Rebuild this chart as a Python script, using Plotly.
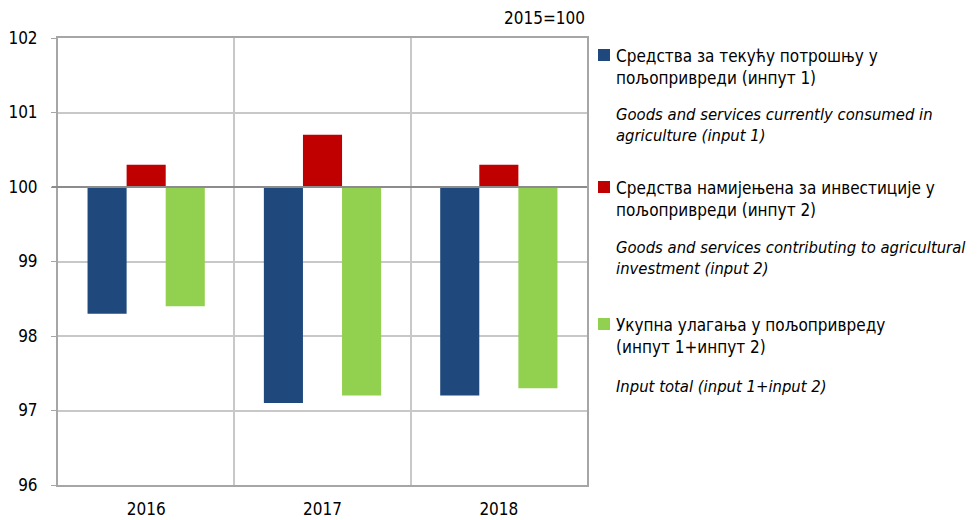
import plotly.graph_objects as go

years = ["2016", "2017", "2018"]
input1 = [98.3, 97.1, 97.2]
input2 = [100.3, 100.7, 100.3]
total = [98.4, 97.2, 97.3]
BASE = 100

names_sr = [
    "Средства за текућу потрошњу у<br>пољопривреди (инпут 1)",
    "Средства намијењена за инвестиције у<br>пољопривреди (инпут 2)",
    "Укупна улагања у пољопривреду<br>(инпут 1+инпут 2)",
]
names_en = [
    "Goods and services currently consumed in<br>agriculture (input 1)",
    "Goods and services contributing to agricultural<br>investment (input 2)",
    "Input total (input 1+input 2)",
]
colors = ["#1F497D", "#C00000", "#92D050"]
series = [input1, input2, total]

FONT = "DejaVu Sans Condensed, Liberation Sans Narrow, sans-serif"

fig = go.Figure()
for vals, col, nm in zip(series, colors, names_sr):
    fig.add_trace(go.Bar(
        x=years,
        y=[v - BASE for v in vals],
        base=[BASE] * len(vals),
        marker=dict(color=col, line=dict(width=0)),
        name=nm,
        showlegend=False,
    ))

OFF = 8  # page body margin
W, H = 980 - OFF, 520 - OFF
X0, X1, Y0, Y1 = 58, 587, 38, 485
L, R, T, B = X0 - OFF, 980 - X1, Y0 - OFF, 520 - Y1
pw, ph = X1 - X0, Y1 - Y0

def px(x):
    return (x - X0) / pw

def py(y):
    return (Y1 - y) / ph

fig.add_shape(type="line", xref="paper", yref="y", x0=-0.012, x1=1, y0=BASE, y1=BASE,
              line=dict(color="#8C8C8C", width=2), layer="above")

ann = []
blocks = [(55, 44, 103), (187, 176, 236), (324, 313, 375)]
for i, (sq_y, top_sr, top_en) in enumerate(blocks):
    fig.add_shape(type="rect", xref="paper", yref="paper",
                  x0=px(598), x1=px(610), y0=py(sq_y + 6), y1=py(sq_y - 6),
                  fillcolor=colors[i], line=dict(width=0))
    ann.append(dict(xref="paper", yref="paper", x=px(614), y=py(top_sr), xanchor="left",
                    yanchor="top", align="left", showarrow=False, text=names_sr[i],
                    font=dict(size=17, color="#000000", family=FONT)))
    ann.append(dict(xref="paper", yref="paper", x=px(614), y=py(top_en), xanchor="left",
                    yanchor="top", align="left", showarrow=False, text="<i>" + names_en[i] + "</i>",
                    font=dict(size=16.5, color="#000000", family=FONT)))

ann.append(dict(xref="paper", yref="paper", x=1.0, y=py(18), xanchor="right", yanchor="middle",
                showarrow=False, text="2015=100", font=dict(size=17, color="#000000", family=FONT)))

fig.update_layout(
    width=W, height=H,
    margin=dict(l=L, r=R, t=T, b=B, pad=0, autoexpand=False),
    paper_bgcolor="white", plot_bgcolor="white",
    barmode="group", bargap=0.335, bargroupgap=0,
    font=dict(family=FONT, size=17, color="#000000"),
    annotations=ann,
    showlegend=False,
)
fig.update_xaxes(type="category", tickson="boundaries", showgrid=True, gridcolor="#C8C8C8",
                 gridwidth=1.5, showline=True, linecolor="#A6A6A6", linewidth=2, mirror=True,
                 ticks="", ticklabelstandoff=8, automargin=False,
                 tickfont=dict(size=17, family=FONT))
fig.update_yaxes(range=[96, 102], dtick=1, showgrid=True, gridcolor="#C8C8C8", gridwidth=1.5,
                 showline=True, linecolor="#A6A6A6", linewidth=2, mirror=True,
                 ticks="outside", ticklen=5, tickcolor="#A6A6A6", zeroline=False,
                 ticklabelstandoff=10, automargin=False,
                 tickfont=dict(size=17, family=FONT))

fig.write_html("out.html")
